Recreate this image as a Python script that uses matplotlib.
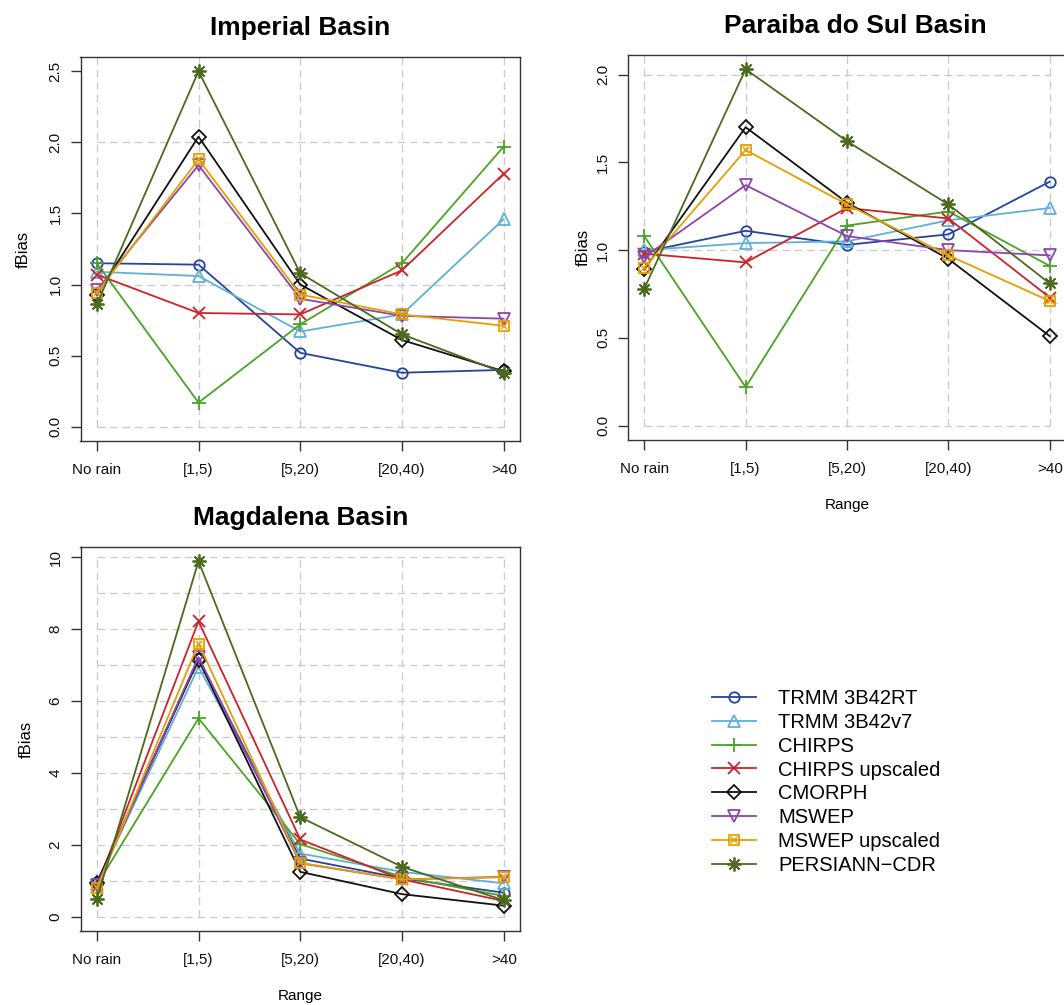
import matplotlib
matplotlib.use("Agg")
import matplotlib.pyplot as plt
from matplotlib.lines import Line2D

plt.rcParams['font.family'] = ['Liberation Sans', 'DejaVu Sans']

# ---------------- data ----------------
categories = ["No rain", "[1,5)", "[5,20)", "[20,40)", ">40"]
products = ["TRMM 3B42RT", "TRMM 3B42v7", "CHIRPS", "CHIRPS upscaled",
            "CMORPH", "MSWEP", "MSWEP upscaled", "PERSIANN\u2212CDR"]

# Imperial Basin
imp_trmm_rt   = [1.15, 1.14, 0.52, 0.38, 0.40]
imp_trmm_v7   = [1.09, 1.06, 0.67, 0.79, 1.46]
imp_chirps    = [1.15, 0.17, 0.72, 1.15, 1.97]
imp_chirps_up = [1.07, 0.80, 0.79, 1.10, 1.78]
imp_cmorph    = [0.93, 2.04, 1.00, 0.61, 0.39]
imp_mswep     = [0.96, 1.84, 0.90, 0.78, 0.76]
imp_mswep_up  = [0.94, 1.88, 0.93, 0.79, 0.71]
imp_persiann  = [0.86, 2.50, 1.08, 0.65, 0.38]

# Paraiba do Sul Basin
par_trmm_rt   = [0.99, 1.11, 1.03, 1.09, 1.39]
par_trmm_v7   = [1.00, 1.04, 1.05, 1.17, 1.24]
par_chirps    = [1.08, 0.22, 1.14, 1.22, 0.91]
par_chirps_up = [0.98, 0.93, 1.24, 1.18, 0.73]
par_cmorph    = [0.89, 1.70, 1.27, 0.95, 0.51]
par_mswep     = [0.96, 1.37, 1.08, 1.00, 0.97]
par_mswep_up  = [0.90, 1.57, 1.26, 0.97, 0.71]
par_persiann  = [0.78, 2.03, 1.62, 1.26, 0.81]

# Magdalena Basin
mag_trmm_rt   = [0.93, 7.20, 1.62, 1.07, 0.67]
mag_trmm_v7   = [0.91, 6.95, 1.76, 1.25, 0.93]
mag_chirps    = [0.88, 5.52, 2.02, 1.11, 0.58]
mag_chirps_up = [0.84, 8.22, 2.15, 1.04, 0.44]
mag_cmorph    = [0.95, 7.15, 1.25, 0.63, 0.31]
mag_mswep     = [0.88, 7.22, 1.49, 1.04, 1.11]
mag_mswep_up  = [0.79, 7.60, 1.50, 1.04, 1.10]
mag_persiann  = [0.49, 9.89, 2.77, 1.39, 0.46]

basins = [
    ("Imperial Basin", [imp_trmm_rt, imp_trmm_v7, imp_chirps, imp_chirps_up,
                        imp_cmorph, imp_mswep, imp_mswep_up, imp_persiann],
     [0, 0.5, 1.0, 1.5, 2.0, 2.5], "%.1f", False),
    ("Paraiba do Sul Basin", [par_trmm_rt, par_trmm_v7, par_chirps, par_chirps_up,
                              par_cmorph, par_mswep, par_mswep_up, par_persiann],
     [0, 0.5, 1.0, 1.5, 2.0], "%.1f", True),
    ("Magdalena Basin", [mag_trmm_rt, mag_trmm_v7, mag_chirps, mag_chirps_up,
                         mag_cmorph, mag_mswep, mag_mswep_up, mag_persiann],
     [0, 2, 4, 6, 8, 10], "%d", True),
]

# ---------------- styles ----------------
colors = ["#24449C", "#5FAFD8", "#4CA226", "#CC2229",
          "#111111", "#8E44AD", "#E69F00", "#4B6A1E"]
markers = ["o", "^", "+", "x", "D", "v", "s", (8, 2, 0)]
msizes = [7.5, 8.5, 10, 8, 7, 8.5, 7, 10]

W, H = 1064, 1005
fig = plt.figure(figsize=(W / 100, H / 100), dpi=100)

def px_axes(l, r, t, b):
    return fig.add_axes([l / W, 1 - b / H, (r - l) / W, (b - t) / H])

boxes = [(80.5, 520, 57, 441), (628, 1066, 55, 440), (80.5, 520, 547, 931)]
ylabel_x = [23, 583, 26]
title_x = [0.5, 0.52, 0.5]
xs = list(range(1, len(categories) + 1))

for k, ((title, series, yticks, fmt, show_xlabel), box) in enumerate(zip(basins, boxes)):
    ax = px_axes(*box)
    ymax = max(max(s) for s in series)
    ax.set_xlim(1 - 0.04 * 4, 5 + 0.04 * 4)
    ax.set_ylim(-0.04 * ymax, 1.04 * ymax)
    # dashed grid segments
    for h in range(0, 11):
        ax.plot([1, 5], [h, h], ls=(0, (5.5, 3.5)), color="#CCCCCC", lw=1.0, zorder=0)
    for x in xs:
        ax.plot([x, x], [0, 10], ls=(0, (5.5, 3.5)), color="#CCCCCC", lw=1.0, zorder=0)
    for i, vals in enumerate(series):
        ax.plot(xs, vals, color=colors[i], lw=1.3, marker=markers[i],
                ms=msizes[i], mfc="none", mec=colors[i], mew=1.3, zorder=2 + i)
        if products[i] == "MSWEP upscaled":
            ax.plot(xs, vals, ls="none", marker="x", ms=5, mec=colors[i],
                    mew=1.1, zorder=2 + i)
    ax.set_xticks(xs)
    ax.set_xticklabels(categories)
    ax.set_yticks(yticks)
    ax.set_yticklabels([fmt % v for v in yticks], rotation=90, va="center")
    for sp in ax.spines.values():
        sp.set_color("#333333")
        sp.set_linewidth(1.0)
    ax.tick_params(direction="out", length=7, width=1.0, color="#333333",
                   labelsize=11, labelcolor="#111111")
    ax.tick_params(axis="y", pad=6)
    ax.tick_params(axis="x", pad=9)
    ax.set_title(title, fontsize=19, fontweight="bold", pad=16, x=title_x[k])
    l, r, t, b = box
    fig.text(ylabel_x[k] / W, 1 - (t + b) / 2 / H, "fBias", rotation=90,
             ha="center", va="center", fontsize=12)
    if show_xlabel:
        ax.set_xlabel("Range", fontsize=11, labelpad=16)

# ---------------- legend ----------------
handles = []
for i, name in enumerate(products):
    ln = Line2D([], [], color=colors[i], lw=1.3, marker=markers[i], ms=msizes[i],
                mfc="none", mec=colors[i], mew=1.3)
    if name == "MSWEP upscaled":
        ln2 = Line2D([], [], ls="none", marker="x", ms=5, mec=colors[i], mew=1.1)
        handles.append((ln, ln2))
    else:
        handles.append(ln)

fig.legend(handles, products, loc="upper left", bbox_to_anchor=(712 / W, 1 - 689 / H),
           frameon=False, fontsize=14.5, borderpad=0, borderaxespad=0,
           handlelength=2.2, handletextpad=1.1, labelspacing=0.24)

fig.savefig("out.png", dpi=100)
